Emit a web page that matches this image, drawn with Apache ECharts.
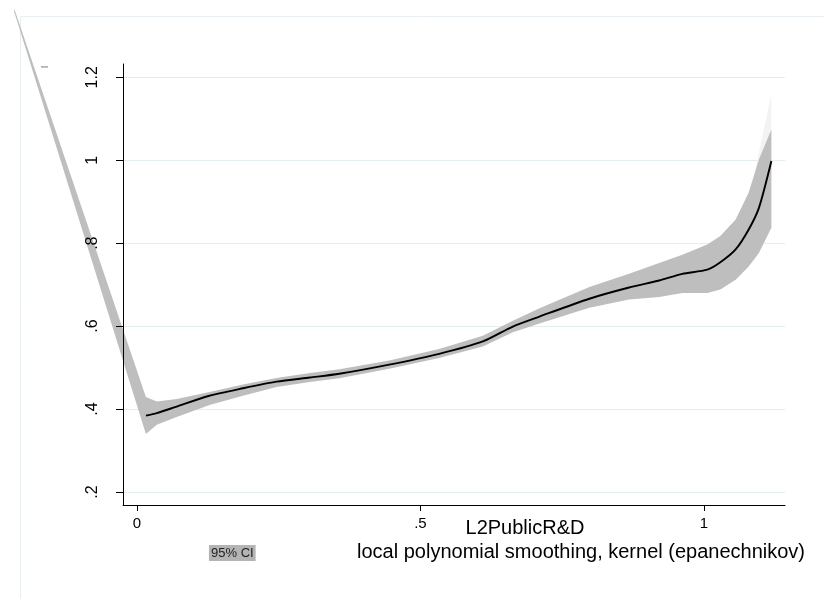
<!DOCTYPE html>
<html>
<head>
<meta charset="utf-8">
<script src="https://cdn.jsdelivr.net/npm/echarts@6/dist/echarts.min.js"></script>
<style>
  html, body { margin: 0; padding: 0; background: #ffffff; }
  #chart { width: 824px; height: 599px; }
</style>
</head>
<body>
<div id="chart"></div>
<script>
// Local polynomial fit of the outcome on L2PublicR&D
var fitX = [0.0158, 0.035, 0.070, 0.128, 0.187, 0.246, 0.305, 0.357, 0.445, 0.533,
            0.610, 0.663, 0.710, 0.798, 0.868, 0.921, 0.962, 1.006, 1.029, 1.056,
            1.079, 1.097, 1.119];
var fitY = [0.384, 0.390, 0.406, 0.432, 0.450, 0.466, 0.476, 0.485, 0.507, 0.533,
            0.563, 0.599, 0.623, 0.666, 0.693, 0.710, 0.726, 0.736, 0.754, 0.785,
            0.833, 0.885, 0.998];

// 95% confidence band (the first grid point lies far outside the plot region)
var bandX = [-0.2165, 0.0158, 0.035, 0.070, 0.128, 0.187, 0.246, 0.305, 0.357, 0.445,
             0.533, 0.610, 0.663, 0.710, 0.798, 0.868, 0.921, 0.962, 1.006, 1.029,
             1.056, 1.079, 1.097, 1.119];
var bandUpper = [1.366, 0.429, 0.418, 0.424, 0.441, 0.459, 0.475, 0.487, 0.496, 0.517,
                 0.545, 0.577, 0.613, 0.643, 0.694, 0.726, 0.752, 0.772, 0.797, 0.817,
                 0.857, 0.922, 1.002, 1.074];
var bandLower = [1.358, 0.340, 0.362, 0.381, 0.410, 0.432, 0.453, 0.465, 0.474, 0.497,
                 0.523, 0.551, 0.585, 0.606, 0.644, 0.664, 0.670, 0.680, 0.680, 0.688,
                 0.712, 0.744, 0.776, 0.837];

// faint sliver above the band at the right end
var sliverX = [1.088, 1.119];
var sliverUpper = [0.960, 1.159];
var sliverLower = [0.960, 1.074];

// axes
var xTicks = [0, 0.5, 1];
var xTickLabels = ['0', '.5', '1'];
var yTicks = [0.2, 0.4, 0.6, 0.8, 1.0, 1.2];
var yTickLabels = ['.2', '.4', '.6', '.8', '1', '1.2'];

var xName = 'L2PublicR&D';
var bandName = '95% CI';
var fitName = 'local polynomial smoothing, kernel (epanechnikov)';

var FONT = '"Liberation Sans", Arial, Helvetica, sans-serif';

function bandRenderer(xs, up, lo, fill) {
  return function (params, api) {
    if (params.dataIndex !== 0) return null;
    var pts = [];
    for (var i = 0; i < xs.length; i++) pts.push(api.coord([xs[i], up[i]]));
    for (var j = xs.length - 1; j >= 0; j--) pts.push(api.coord([xs[j], lo[j]]));
    return {
      type: 'polygon',
      shape: { points: pts },
      style: { fill: fill, stroke: null }
    };
  };
}

function labelFor(values, labels) {
  return function (v) {
    for (var i = 0; i < values.length; i++) {
      if (Math.abs(values[i] - v) < 1e-6) return labels[i];
    }
    return '';
  };
}

var chart = echarts.init(document.getElementById('chart'), null, { renderer: 'canvas' });

chart.setOption({
  animation: false,
  backgroundColor: '#ffffff',
  textStyle: { fontFamily: FONT },
  grid: { left: 123, right: 39, top: 64, bottom: 94, containLabel: false },
  xAxis: {
    type: 'value',
    z: 10,
    min: -0.0246,
    max: 1.143,
    name: xName,
    nameLocation: 'middle',
    nameGap: 13,
    nameMoveOverlap: false,
    nameTextStyle: { fontFamily: FONT, fontSize: 20, color: '#000', padding: [0, 0, 0, 142] },
    axisLine: { show: true, onZero: false, lineStyle: { color: '#000', width: 1 } },
    axisTick: { show: true, length: 6, customValues: xTicks, lineStyle: { color: '#000' } },
    axisLabel: {
      customValues: xTicks,
      formatter: labelFor(xTicks, xTickLabels),
      fontFamily: FONT, fontSize: 15, color: '#000', margin: 11
    },
    splitLine: { show: false }
  },
  yAxis: {
    type: 'value',
    z: 10,
    min: 0.1686,
    max: 1.232,
    axisLine: { show: true, onZero: false, lineStyle: { color: '#000', width: 1 } },
    axisTick: { show: true, length: 7, customValues: yTicks, lineStyle: { color: '#000' } },
    axisLabel: {
      customValues: yTicks,
      formatter: labelFor(yTicks, yTickLabels),
      rotate: 90,
      fontFamily: FONT, fontSize: 16, color: '#000', margin: 22
    },
    splitLine: { show: false }
  },
  series: [
    {
      name: bandName,
      type: 'custom',
      clip: false,
      silent: true,
      z: 2,
      data: bandX.map(function (x, i) { return [x, bandUpper[i], bandLower[i]]; }),
      encode: { x: 0, y: [1, 2] },
      renderItem: bandRenderer(bandX, bandUpper, bandLower, '#bebebe')
    },
    {
      name: 'sliver',
      type: 'custom',
      clip: false,
      silent: true,
      z: 1,
      data: sliverX.map(function (x, i) { return [x, sliverUpper[i], sliverLower[i]]; }),
      encode: { x: 0, y: [1, 2] },
      renderItem: bandRenderer(sliverX, sliverUpper, sliverLower, '#f3f3f3')
    },
    {
      name: fitName,
      type: 'line',
      z: 3,
      data: fitX.map(function (x, i) { return [x, fitY[i]]; }),
      showSymbol: false,
      smooth: 0.25,
      lineStyle: { color: '#000000', width: 1.9 },
      markLine: {
        silent: true,
        symbol: ['none', 'none'],
        z: 1,
        label: { show: false },
        lineStyle: { color: '#e4eef0', width: 1, type: 'solid' },
        data: yTicks.map(function (v) { return { yAxis: v }; })
      }
    }
  ],
  graphic: [
    {
      type: 'rect',
      z: -1,
      shape: { x: 20.5, y: 16.5, width: 900, height: 700 },
      style: { fill: null, stroke: '#e8eff2', lineWidth: 1 }
    },
    {
      type: 'text',
      x: 44, y: 67,
      rotation: Math.PI / 2,
      style: { text: '|', fontFamily: FONT, fontSize: 8, fill: '#333', align: 'center', verticalAlign: 'middle' }
    },
    {
      type: 'text',
      left: 209, top: 545,
      style: {
        text: bandName, fontFamily: FONT, fontSize: 13, fill: '#222',
        backgroundColor: '#b4b4b4', padding: [2, 2, 1, 2]
      }
    },
    {
      type: 'text',
      left: 357, top: 542,
      style: { text: fitName, fontFamily: FONT, fontSize: 20, fill: '#000' }
    }
  ]
});
</script>
</body>
</html>
